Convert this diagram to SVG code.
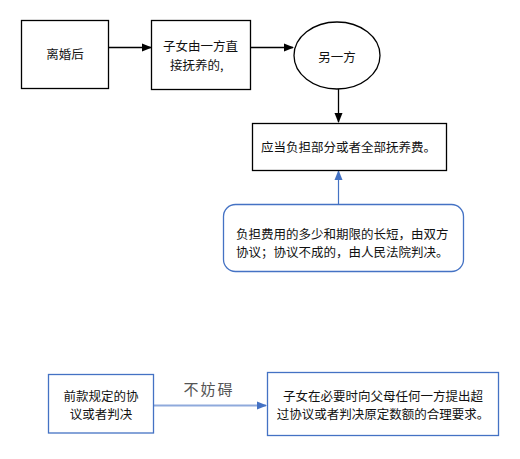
<svg xmlns="http://www.w3.org/2000/svg" width="520" height="459" viewBox="0 0 520 459">
<style>
text{font-family:"Noto Sans CJK SC","Liberation Sans",sans-serif;font-size:12.5px;fill:#111;dominant-baseline:central}
.k{fill:#fff;stroke:#000;stroke-width:1.3}
.b{fill:#fff;stroke:#4472C4;stroke-width:1.3}
.c{stroke:#000;stroke-width:1.3;fill:none}
</style>
<defs>
<marker id="ak" markerWidth="10" markerHeight="10" refX="9" refY="5" orient="auto" markerUnits="userSpaceOnUse"><path d="M0,1 L10,5 L0,9 z" fill="#000"/></marker>
<marker id="ab" markerWidth="10" markerHeight="10" refX="9" refY="5" orient="auto" markerUnits="userSpaceOnUse"><path d="M0,1 L10,5 L0,9 z" fill="#4472C4"/></marker>
</defs>
<rect width="520" height="459" fill="#fff"/>
<g id="connectors">
<line class="c" x1="108" y1="47.5" x2="151" y2="47.5" marker-end="url(#ak)"/>
<line class="c" x1="250" y1="47.5" x2="293" y2="47.5" marker-end="url(#ak)"/>
<line class="c" x1="338.5" y1="89" x2="338.5" y2="122" marker-end="url(#ak)"/>
<line x1="338.5" y1="204" x2="338.5" y2="171" stroke="#4472C4" stroke-width="1.2" marker-end="url(#ab)"/>
<line x1="153" y1="405.5" x2="266" y2="405.5" stroke="#8FAADC" stroke-width="2.2" marker-end="url(#ab)"/>
<text x="209" y="388" text-anchor="middle" style="font-size:15px;fill:#555;letter-spacing:2px">不妨碍</text>
</g>
<g id="n1"><rect class="k" x="21.5" y="20.5" width="87" height="68"/><text x="65" y="53" text-anchor="middle">离婚后</text></g>
<g id="n2"><rect class="k" x="151.5" y="20.5" width="99" height="69"/><text x="163" y="45">子女由一方直</text><text x="170" y="64">接抚养的,</text></g>
<g id="n3"><ellipse class="k" cx="337" cy="55.5" rx="43" ry="33.5"/><text x="337" y="56" text-anchor="middle">另一方</text></g>
<g id="n4"><rect class="k" x="252.5" y="123.5" width="194" height="47"/><text x="261" y="146">应当负担部分或者全部抚养费。</text></g>
<g id="n5"><rect class="b" x="223.5" y="204.5" width="240" height="67" rx="12"/><text x="236" y="233">负担费用的多少和期限的长短，由双方</text><text x="236" y="251">协议；协议不成的，由人民法院判决。</text></g>
<g id="n6"><rect class="b" x="48.5" y="374.5" width="105" height="58.5"/><text x="101" y="395" text-anchor="middle">前款规定的协</text><text x="101" y="413" text-anchor="middle">议或者判决</text></g>
<g id="n7"><rect class="b" x="267.5" y="372.5" width="231" height="63"/><text x="383" y="395" text-anchor="middle">子女在必要时向父母任何一方提出超</text><text x="383" y="413" text-anchor="middle">过协议或者判决原定数额的合理要求。</text></g>
</svg>
